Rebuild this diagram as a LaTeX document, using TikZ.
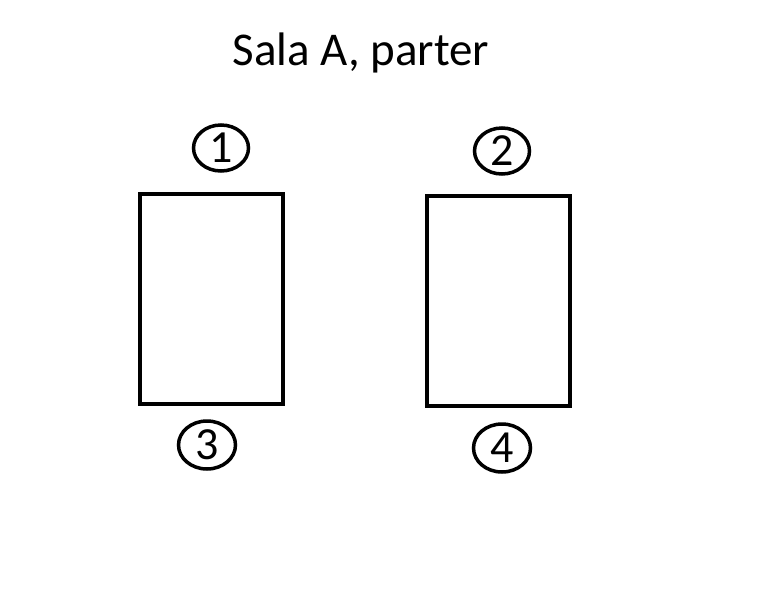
\documentclass[tikz,border=0pt]{standalone}
\usepackage{fontspec}
\setmainfont{Carlito}
\usetikzlibrary{shapes.geometric}
\begin{document}
\begin{tikzpicture}[x=1pt,y=-1pt,
  table/.style={draw,line width=4pt,minimum width=143pt,minimum height=210pt,inner sep=0pt},
  seat/.style={draw,ellipse,line width=3.5pt,minimum width=55pt,minimum height=46pt,inner sep=0pt,font=\fontsize{46}{46}\selectfont}]
\useasboundingbox (0,0) rectangle (760,600);
\fill[white] (0,0) rectangle (760,600);
\node[font=\fontsize{47}{47}\selectfont,anchor=base] (title) at (361,65) {Sala A, parter};
\node[table] (t1) at (211.5,298.5) {};
\node[table] (t2) at (498,300.5) {};
\node[seat] (s1) at (221,148) {1};
\node[seat] (s2) at (502,151) {2};
\node[seat,minimum width=57pt,minimum height=48pt] (s3) at (207,445) {3};
\node[seat,minimum width=57pt,minimum height=48pt] (s4) at (502,448) {4};
\end{tikzpicture}
\end{document}
